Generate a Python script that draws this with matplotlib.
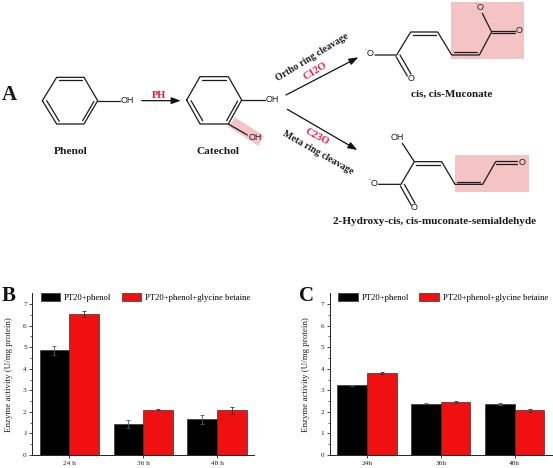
import matplotlib
matplotlib.use("Agg")
import matplotlib.pyplot as plt
from matplotlib.patches import Polygon, Rectangle
import numpy as np

plt.rcParams['font.family'] = ['Liberation Serif', 'DejaVu Serif']

# ---- data ----
times_b = ['24 h', '36 h', '48 h']
times_c = ['24h', '36h', '48h']
series_names = ['PT20+phenol', 'PT20+phenol+glycine betaine']
b_phenol = [4.85, 1.43, 1.65]
b_betaine = [6.55, 2.10, 2.08]
b_phenol_err = [0.22, 0.18, 0.22]
b_betaine_err = [0.13, 0.03, 0.16]
c_phenol = [3.23, 2.38, 2.35]
c_betaine = [3.82, 2.47, 2.08]
c_phenol_err = [0.03, 0.02, 0.05]
c_betaine_err = [0.05, 0.04, 0.07]
y_label = 'Enzyme activity (U/mg protein)'

W, H = 553, 468
fig = plt.figure(figsize=(W / 100, H / 100), dpi=100, facecolor='white')


def axes_px(x0, x1, ytop, ybot):
    return fig.add_axes([x0 / W, 1 - ybot / H, (x1 - x0) / W, (ybot - ytop) / H])


def panel(rect, labels, v1, v2, e1, e2):
    ax = axes_px(*rect)
    x = np.arange(len(labels))
    w = 0.4
    ax.bar(x - w / 2, v1, w, color='black', edgecolor='#333333', linewidth=0.5,
           yerr=e1, error_kw=dict(ecolor='#555555', elinewidth=0.6, capsize=1.5, capthick=0.6),
           label=series_names[0])
    ax.bar(x + w / 2, v2, w, color='#f01010', edgecolor='#333333', linewidth=0.5,
           yerr=e2, error_kw=dict(ecolor='#333333', elinewidth=0.6, capsize=1.5, capthick=0.6),
           label=series_names[1])
    ax.set_xlim(-0.5, 2.5)
    ax.set_ylim(0, 7.5)
    ax.set_xticks(x, labels, fontsize=5)
    ax.set_yticks(range(8))
    ax.set_yticks(np.arange(0.5, 7.5, 1), minor=True)
    ax.tick_params(axis='both', which='major', labelsize=5.2, length=2.5, width=0.6, pad=1.5, colors='#222222')
    ax.tick_params(axis='y', which='minor', length=1.5, width=0.5, colors='#222222')
    for s in ('top', 'right'):
        ax.spines[s].set_visible(False)
    for s in ('left', 'bottom'):
        ax.spines[s].set_linewidth(0.7)
        ax.spines[s].set_color('#222222')
    ax.set_ylabel(y_label, fontsize=6.5, labelpad=7.5, color='#222222')
    ax.patch.set_alpha(0)
    ax.legend(ncol=2, loc='upper left', bbox_to_anchor=(8.4 / (rect[1] - rect[0]), 1.0),
              frameon=False, fontsize=6.2, handlelength=2.25, handleheight=1.05,
              handletextpad=0.45, columnspacing=1.2, borderpad=0, borderaxespad=0)
    return ax


panel((32.3, 254, 293.3, 455), times_b, b_phenol, b_betaine, b_phenol_err, b_betaine_err)
panel((330, 551.7, 293.3, 455), times_c, c_phenol, c_betaine, c_phenol_err, c_betaine_err)

# ---- reaction scheme drawn on a pixel-coordinate overlay ----
ov = fig.add_axes([0, 0, 1, 1])
ov.set_xlim(0, W)
ov.set_ylim(H, 0)
ov.axis('off')
ov.patch.set_alpha(0)

PINK = '#f4c4c4'
RED = '#f0163c'


def L(pts, ox=0, lw=0.9):
    xs = [ox + p[0] / 3 for p in pts]
    ys = [p[1] / 3 for p in pts]
    ov.plot(xs, ys, color='#1a1a1a', lw=lw, solid_capstyle='round', solid_joinstyle='round')


def T(x, y, s, ox=0, size=6.5, weight='normal', color='#1a1a1a', rot=0, family=None):
    ov.text(ox + x / 3, y / 3, s, fontsize=size, fontweight=weight, color=color, rotation=rot,
            rotation_mode='anchor', ha='center', va='center', family=family or ['Liberation Serif'])


def A(x0, y0, x1, y1, ox=0):
    ov.annotate('', xy=(ox + x1 / 3, y1 / 3), xytext=(ox + x0 / 3, y0 / 3),
                arrowprops=dict(arrowstyle='-|>,head_length=0.55,head_width=0.2', color='#111111',
                                lw=0.9, shrinkA=0, shrinkB=0))


# highlights
ov.add_patch(Polygon([(705 / 3, 352 / 3), (792 / 3, 408 / 3), (775 / 3, 438 / 3), (685 / 3, 380 / 3)],
                     closed=True, fc=PINK, ec='none'))
ov.add_patch(Rectangle((270 + 543 / 3, 5 / 3), 219 / 3, 173 / 3, fc=PINK, ec='none'))
ov.add_patch(Rectangle((270 + 556 / 3, 464 / 3), 220 / 3, 111 / 3, fc=PINK, ec='none'))

SANS = ['Liberation Sans']
# phenol
L([(127, 302), (170, 232), (252, 232), (293, 302), (252, 372), (170, 372), (127, 302)])
L([(178, 241), (245, 241)])
L([(248, 362), (282, 304)])
L([(140, 302), (178, 364)])
L([(293, 302), (360, 302)])
T(383, 301, 'OH', size=6.5, family=SANS)
# PH arrow
A(425, 302, 542, 302)
T(476, 285, 'PH', size=7.5, weight='bold', color=RED)
# catechol
L([(560, 300), (600, 230), (685, 230), (725, 300), (685, 372), (600, 372), (560, 300)])
L([(607, 240), (678, 240)])
L([(680, 362), (713, 303)])
L([(573, 302), (608, 362)])
L([(725, 300), (795, 300)])
L([(685, 372), (742, 405)])
T(817, 299, 'OH', size=6.5, family=SANS)
T(765, 411, 'OH', size=6.5, family=SANS)
# names
T(28, 285, 'A', size=15, weight='bold')
T(211, 456, 'Phenol', size=8.2, weight='bold')
T(655, 456, 'Catechol', size=8.2, weight='bold')
ov.text(2, 296, 'B', fontsize=15, fontweight='bold', va='center', ha='left', color='#111111')
ov.text(298.5, 296, 'C', fontsize=15, fontweight='bold', va='center', ha='left', color='#111111')

# right part
OX = 270
A(48, 285, 265, 172, OX)
A(52, 328, 262, 450, OX)
T(128, 173, 'Ortho ring cleavage', OX, size=7, weight='bold', rot=31.5)
T(135, 212, 'C12O', OX, size=7.5, weight='bold', color=RED, rot=31.5)
T(140, 412, 'C23O', OX, size=7.5, weight='bold', color=RED, rot=-28)
T(145, 457, 'Meta ring cleavage', OX, size=7, weight='bold', rot=-29.5)

# cis,cis-muconate
L([(315, 165), (380, 165), (422, 96), (503, 96), (545, 165), (628, 165), (665, 96), (637, 40)], OX)
L([(430, 104), (497, 104)], OX)
L([(552, 156), (620, 156)], OX)
L([(665, 92), (735, 92)], OX)
L([(665, 100), (735, 100)], OX)
L([(378, 170), (412, 228)], OX)
L([(390, 165), (423, 222)], OX)
T(298, 163, '$^{\\cdot}$O', OX, size=6.5, family=SANS)
T(747, 92, 'O', OX, size=6.5, family=SANS)
T(627, 23, '$^{\\cdot}$O', OX, size=6.5, family=SANS)
T(424, 235, 'O', OX, size=6.5, family=SANS)
T(545, 284, 'cis, cis-Muconate', OX, size=8, weight='bold')

# 2-hydroxy-cis,cis-muconate-semialdehyde
L([(397, 430), (433, 485), (515, 485), (555, 553), (638, 553), (677, 485)], OX)
L([(438, 494), (510, 494)], OX)
L([(562, 545), (630, 545)], OX)
L([(677, 483), (742, 483)], OX)
L([(677, 491), (742, 491)], OX)
L([(433, 485), (393, 553), (325, 553)], OX)
L([(391, 558), (424, 616)], OX)
L([(403, 553), (435, 610)], OX)
T(382, 412, 'OH', OX, size=6.5, family=SANS)
T(757, 487, 'O', OX, size=6.5, family=SANS)
T(310, 552, '$^{\\cdot}$O', OX, size=6.5, family=SANS)
T(432, 623, 'O', OX, size=6.5, family=SANS)
T(493, 665, '2-Hydroxy-cis, cis-muconate-semialdehyde', OX, size=8, weight='bold')

fig.savefig('out.png', dpi=100, facecolor='white')
